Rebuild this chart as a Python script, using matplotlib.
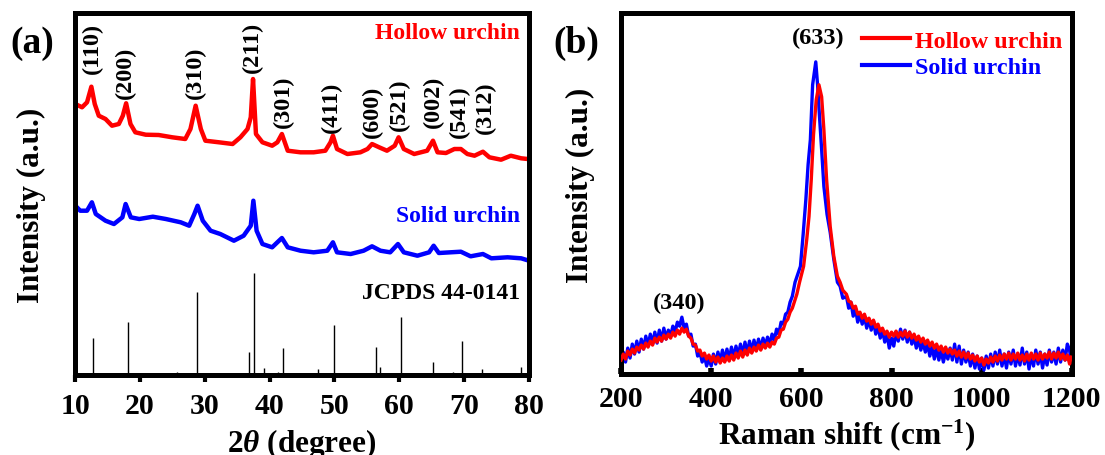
import matplotlib
matplotlib.use("Agg")
import matplotlib.pyplot as plt

plt.rcParams['font.family'] = ['Liberation Serif', 'DejaVu Serif']
plt.rcParams['font.weight'] = 'bold'
plt.rcParams['mathtext.fontset'] = 'custom'
plt.rcParams['mathtext.rm'] = 'Liberation Serif:bold'
plt.rcParams['mathtext.bf'] = 'Liberation Serif:bold'
plt.rcParams['mathtext.it'] = 'Liberation Serif:italic'

# ---------------- (a) XRD data ----------------
xrd_hollow_x = [10.05, 11.08, 11.85, 12.52, 13.04, 13.66, 14.7, 15.7, 16.75, 17.37, 17.88, 18.55,
                19.3, 20.9, 22.9, 25.0, 27.0, 27.8, 28.6, 29.4, 30.1, 32.2, 34.3, 35.5, 36.6,
                37.1, 37.45, 37.9, 38.9, 40.4, 41.2, 41.9, 42.8, 44.77, 46.8, 48.6, 49.4, 49.77,
                50.4, 52.0, 54.0, 55.1, 55.8, 56.9, 58.1, 59.3, 59.9, 60.7, 62.3, 64.3, 65.2,
                65.9, 67.2, 68.5, 69.5, 70.5, 71.6, 72.9, 73.9, 75.7, 77.2, 78.8, 79.8]
xrd_hollow_y = [271, 267.7, 272.7, 288.3, 271, 259.3, 256, 249.3, 251, 259.3, 271.7, 251, 242.7,
                240.3, 240, 237.7, 236, 246, 269.3, 246, 234.3, 232.7, 231, 237.7, 246, 257.7,
                296, 241, 232.7, 229.3, 232.7, 241, 224.3, 222.7, 222.7, 224.3, 232.7, 239.3, 226,
                221, 222.7, 226, 231, 227.7, 224.3, 229.3, 237.7, 226, 221, 224.3, 234.3, 222.7,
                222, 226, 226, 221, 219.3, 223.3, 217.7, 215.3, 219.3, 216.7, 216]

xrd_solid_x = [10.05, 10.8, 11.85, 12.6, 13.2, 14.7, 16.0, 17.3, 17.8, 18.6, 19.9, 22.0, 24.0,
               26.3, 27.6, 28.4, 28.9, 29.7, 30.9, 32.4, 34.5, 36.0, 37.1, 37.5, 38.0, 38.9,
               40.4, 41.2, 41.9, 42.8, 44.77, 46.8, 48.9, 49.77, 50.4, 52.5, 54.5, 55.8, 57.1,
               58.6, 59.8, 60.7, 62.8, 64.6, 65.3, 66.1, 67.9, 69.5, 71.0, 72.9, 74.2, 76.7,
               78.8, 80.0]
xrd_solid_y = [169.3, 164.3, 164.3, 172.7, 161, 154.3, 151, 157.7, 171, 157.7, 156, 158.3, 156,
               152.7, 149.3, 161, 169.3, 154.3, 144.3, 141, 134.3, 139.3, 149.3, 174.3, 144.3,
               131, 127.7, 132.7, 137, 127.7, 124.3, 122.7, 124.3, 132.7, 122.7, 121, 124.3,
               128.7, 124.3, 122.7, 131, 122.7, 119.3, 122.7, 129.3, 122, 122.7, 123.3, 118.7,
               121, 116.7, 117.7, 116.7, 114.3]

jcpds_pos = [12.73, 18.19, 25.7, 28.85, 36.79, 37.56, 39.1, 41.27, 42.04, 47.4, 49.92, 56.41,
             57.03, 60.33, 65.17, 68.3, 69.75, 72.8, 77.3, 78.7]
jcpds_int = [36.7, 53, 2.7, 83.3, 22.7, 102, 7, 2.7, 27.3, 6, 50, 28, 8, 58.3, 13.3, 2.7, 34,
             6, 2, 8.3]

hkl_labels = ['(110)', '(200)', '(310)', '(211)', '(301)', '(411)', '(600)', '(521)', '(002)',
              '(541)', '(312)']
hkl_x = [12.6, 17.7, 28.5, 37.4, 42.1, 49.6, 55.9, 60.0, 65.2, 69.3, 73.3]
hkl_y = [328, 303.5, 303.5, 328.5, 274, 269, 264, 271, 274, 264, 268]

# ---------------- (b) Raman data ----------------
raman_hollow_x = [200, 205, 210, 215, 220, 225, 230, 235, 240, 245, 250, 255, 260, 265, 270, 275,
                  280, 285, 290, 295, 300, 305, 310, 315, 320, 325, 330, 335, 340, 345, 350, 355,
                  360, 365, 370, 375, 380, 385, 390, 395, 400, 405, 410, 415, 420, 425, 430, 435,
                  440, 445, 450, 455, 460, 465, 470, 475, 480, 485, 490, 495, 500, 505, 510, 515,
                  520, 525, 530, 535, 540, 545, 550, 555, 560, 565, 570, 575, 580, 585, 590, 596,
                  605, 612, 617, 622, 627, 633, 639, 645, 650, 656, 664, 672, 680, 686, 692, 700,
                  705, 710, 715, 720, 725, 730, 735, 740, 745, 750, 755, 760, 765, 770, 775, 780,
                  785, 790, 795, 800, 805, 810, 815, 820, 825, 830, 835, 840, 845, 850, 855, 860,
                  865, 870, 875, 880, 885, 890, 895, 900, 905, 910, 915, 920, 925, 930, 935, 940,
                  945, 950, 955, 960, 965, 970, 975, 980, 985, 990, 995, 1000, 1005, 1010, 1015,
                  1020, 1025, 1030, 1035, 1040, 1045, 1050, 1055, 1060, 1065, 1070, 1075, 1080,
                  1085, 1090, 1095, 1100, 1105, 1110, 1115, 1120, 1125, 1130, 1135, 1140, 1145,
                  1150, 1155, 1160, 1165, 1170, 1175, 1180, 1185, 1190, 1195, 1198]
raman_hollow_y = [14, 20, 15, 23, 19, 25, 21, 27, 24, 29, 25, 31, 27, 33, 29, 36, 32, 37, 33, 39,
                  35, 40, 36, 42, 38, 44, 40, 46, 42, 45, 38, 36, 30, 29, 23, 24, 18, 21, 15, 19,
                  13, 18, 12, 17, 11, 16, 12, 18, 13, 19, 14, 21, 16, 23, 17, 24, 19, 26, 21, 27,
                  23, 29, 24, 30, 26, 31, 27, 32, 30, 36, 37, 44, 45, 52, 55, 62, 66, 73, 80, 92,
                  108, 135, 158, 195, 240, 275, 290, 278, 245, 195, 148, 118, 98, 92, 84, 80, 73,
                  72, 66, 68, 60, 62, 56, 60, 53, 56, 50, 54, 47, 50, 43, 46, 40, 43, 37, 42, 38,
                  43, 37, 42, 38, 43, 37, 42, 36, 40, 34, 38, 32, 36, 30, 34, 28, 32, 26, 30, 24,
                  28, 22, 27, 21, 25, 20, 24, 18, 23, 17, 22, 16, 21, 15, 19, 13, 18, 12, 16, 9,
                  15, 11, 17, 12, 18, 13, 19, 14, 20, 15, 21, 14, 20, 15, 21, 14, 19, 13, 20, 14,
                  21, 15, 20, 14, 21, 15, 20, 16, 22, 15, 21, 16, 22, 15, 20, 14, 19, 10, 17]

raman_solid_x = [200, 205, 210, 215, 220, 225, 230, 235, 240, 245, 250, 255, 260, 265, 270, 275,
                 280, 285, 290, 295, 300, 305, 310, 315, 320, 325, 330, 335, 340, 345, 350, 355,
                 360, 365, 370, 375, 380, 385, 390, 395, 400, 405, 410, 415, 420, 425, 430, 435,
                 440, 445, 450, 455, 460, 465, 470, 475, 480, 485, 490, 495, 500, 505, 510, 515,
                 520, 525, 530, 535, 540, 545, 550, 555, 560, 565, 570, 575, 580, 586, 592, 598,
                 604, 610, 615, 620, 625, 628, 632, 636, 640, 645, 650, 657, 664, 672, 680, 686,
                 692, 700, 705, 710, 715, 720, 725, 730, 735, 740, 745, 750, 755, 760, 765, 770,
                 775, 780, 785, 790, 795, 800, 805, 810, 815, 820, 825, 830, 835, 840, 845, 850,
                 855, 860, 865, 870, 875, 880, 885, 890, 895, 900, 905, 910, 915, 920, 925, 930,
                 935, 940, 945, 950, 955, 960, 965, 970, 975, 980, 985, 990, 995, 1000, 1005,
                 1010, 1015, 1020, 1025, 1030, 1035, 1040, 1045, 1050, 1055, 1060, 1065, 1070,
                 1075, 1080, 1085, 1090, 1095, 1100, 1105, 1110, 1115, 1120, 1125, 1130, 1135,
                 1140, 1145, 1150, 1155, 1160, 1165, 1170, 1175, 1180, 1185, 1190, 1195, 1198]
raman_solid_y = [8, 22, 12, 26, 16, 30, 20, 33, 22, 35, 25, 38, 28, 40, 30, 42, 31, 44, 33, 46,
                 35, 44, 38, 48, 42, 52, 48, 57, 46, 50, 38, 40, 28, 30, 18, 22, 12, 18, 8, 16, 8,
                 20, 10, 22, 12, 24, 13, 25, 14, 27, 16, 28, 18, 30, 19, 32, 20, 33, 22, 34, 24,
                 35, 25, 36, 28, 37, 29, 40, 34, 45, 40, 52, 50, 60, 62, 72, 78, 92, 100, 108, 140,
                 175, 210, 235, 290, 300, 313, 290, 260, 225, 188, 160, 142, 115, 92, 88, 76, 78,
                 66, 72, 58, 66, 52, 60, 50, 58, 46, 55, 44, 53, 40, 48, 36, 44, 32, 40, 26, 36,
                 28, 42, 33, 45, 35, 44, 32, 42, 30, 38, 26, 35, 24, 32, 22, 30, 18, 28, 15, 26,
                 14, 24, 12, 22, 15, 26, 14, 30, 12, 28, 10, 24, 12, 22, 8, 20, 6, 18, 5, 16, 4,
                 18, 6, 20, 8, 22, 10, 24, 8, 20, 6, 22, 10, 24, 8, 20, 9, 26, 10, 22, 5, 20, 8,
                 24, 10, 22, 6, 20, 9, 24, 12, 22, 10, 26, 12, 24, 14, 30, 24, 12]

RED = '#ff0000'
BLUE = '#0000ff'

fig = plt.figure(figsize=(11.05, 4.56), dpi=100)
axa = fig.add_axes([0.0679, 0.1754, 0.4108, 0.7939])
axb = fig.add_axes([0.562, 0.1776, 0.408, 0.7917])

for ax in (axa, axb):
    for s in ax.spines.values():
        s.set_linewidth(3.6)
    ax.set_yticks([])

# panel a
axa.plot(xrd_hollow_x, xrd_hollow_y, color=RED, lw=3.2)
axa.plot(xrd_solid_x, xrd_solid_y, color=BLUE, lw=3.2)
axa.vlines(jcpds_pos, 0, jcpds_int, color='black', lw=1.0)
for lab, x, y in zip(hkl_labels, hkl_x, hkl_y):
    axa.text(x, y, lab, rotation=90, ha='center', va='center', fontsize=17.5, fontweight='bold')
axa.text(78.6, 343, 'Hollow urchin', color=RED, ha='right', va='center', fontsize=17, fontweight='bold')
axa.text(78.6, 160, 'Solid urchin', color=BLUE, ha='right', va='center', fontsize=17, fontweight='bold')
axa.text(78.6, 83, 'JCPDS 44-0141', color='black', ha='right', va='center', fontsize=17, fontweight='bold')
axa.set_xlim(10, 80)
axa.set_ylim(0, 362)
axa.set_xticks([10, 20, 30, 40, 50, 60, 70, 80])
axa.tick_params(axis='x', direction='out', length=5, width=3, labelsize=21.5, pad=7)
axa.set_xlabel(r'2$\mathit{\theta}$ (degree)', fontsize=22.5, fontweight='bold', labelpad=5)
axa.set_ylabel('Intensity (a.u.)', fontsize=22.5, fontweight='bold')
axa.yaxis.set_label_coords(-0.064, 0.472)
for t in axa.get_xticklabels():
    t.set_fontweight('bold')
fig.text(0.009, 0.905, '(a)', fontsize=27, fontweight='bold', va='center')

# panel b
axb.plot(raman_hollow_x, raman_hollow_y, color=RED, lw=2.4, label='Hollow urchin', zorder=3)
axb.plot(raman_solid_x, raman_solid_y, color=BLUE, lw=2.4, label='Solid urchin', zorder=2)
axb.text(638, 337, '(633)', ha='center', va='center', fontsize=17.5, fontweight='bold')
axb.text(330, 72, '(340)', ha='center', va='center', fontsize=17.5, fontweight='bold')
axb.set_xlim(200, 1200)
axb.set_ylim(0, 362)
axb.set_xticks([200, 400, 600, 800, 1000, 1200])
axb.tick_params(axis='x', direction='in', length=4, width=4, labelsize=21.5, pad=8)
axb.set_xlabel(r'Raman shift (cm$^{-1}$)', fontsize=22.5, fontweight='bold', labelpad=3)
axb.set_ylabel('Intensity (a.u.)', fontsize=22.5, fontweight='bold')
axb.yaxis.set_label_coords(-0.058, 0.524)
for t in axb.get_xticklabels():
    t.set_fontweight('bold')
leg = axb.legend(loc='upper right', frameon=False, fontsize=17.3, handlelength=2.0,
                 handletextpad=0.2, borderaxespad=0.0, labelspacing=0.2,
                 bbox_to_anchor=(1.0, 0.98))
for line in leg.get_lines():
    line.set_linewidth(3)
for txt, c in zip(leg.get_texts(), [RED, BLUE]):
    txt.set_color(c)
    txt.set_fontweight('bold')
fig.text(0.5005, 0.905, '(b)', fontsize=27, fontweight='bold', va='center')

fig.savefig('out.png', dpi=100)
